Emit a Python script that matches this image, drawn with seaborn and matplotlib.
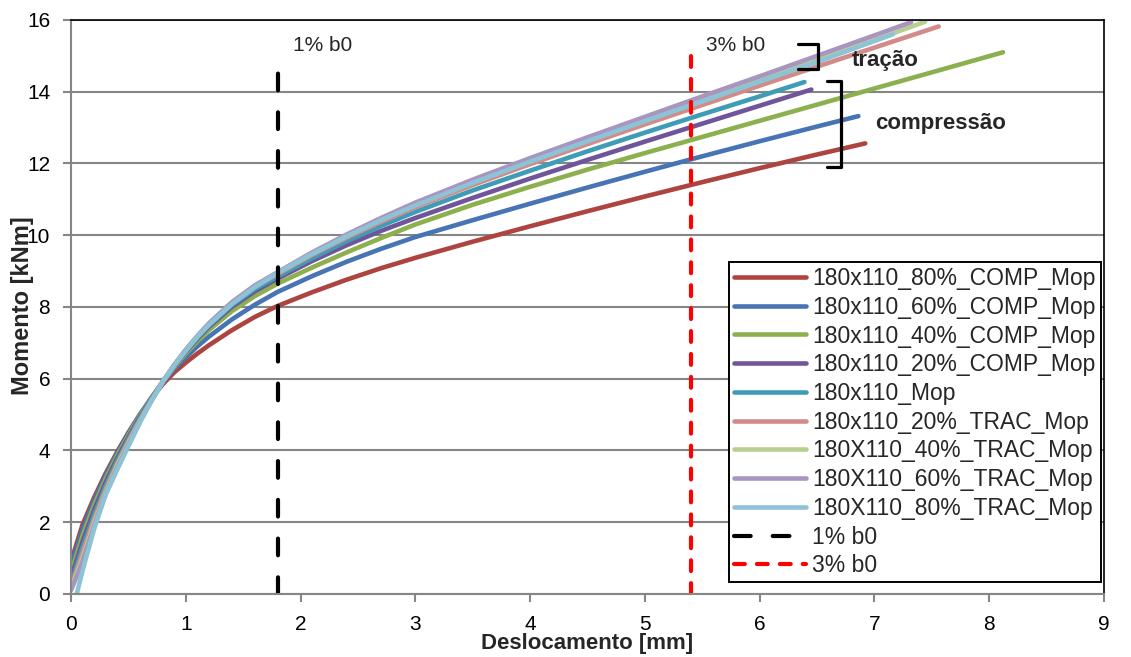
import matplotlib

matplotlib.use("Agg")
import matplotlib.pyplot as plt
import seaborn as sns

# Moment vs displacement curves
labels = [
    "180x110_80%_COMP_Mop",
    "180x110_60%_COMP_Mop",
    "180x110_40%_COMP_Mop",
    "180x110_20%_COMP_Mop",
    "180x110_Mop",
    "180x110_20%_TRAC_Mop",
    "180X110_40%_TRAC_Mop",
    "180X110_60%_TRAC_Mop",
    "180X110_80%_TRAC_Mop",
]
colors = [
    "#AE4440",
    "#4674B5",
    "#8DB04F",
    "#70559A",
    "#3F9CB6",
    "#D38B89",
    "#B7CF90",
    "#A896C0",
    "#8CC3D6",
]

# displacement values shared by all curves up to 6 mm
x_common = [0, 0.1, 0.2, 0.3, 0.4, 0.5, 0.6, 0.7, 0.8, 0.9, 1.0, 1.1, 1.2,
            1.4, 1.6, 1.8, 2.1, 2.4, 2.7, 3.0, 3.5, 4.0, 4.5, 5.0, 5.5, 6.0]

x_comp80 = x_common + [6.5, 6.92]
y_comp80 = [0.9, 1.93, 2.68, 3.35, 3.95, 4.5, 5.0, 5.45, 5.85, 6.18, 6.45, 6.7, 6.93,
            7.35, 7.72, 8.03, 8.41, 8.76, 9.08, 9.37, 9.82, 10.25, 10.67, 11.08, 11.48, 11.87,
            12.25, 12.56]

x_comp60 = x_common + [6.5, 6.86]
y_comp60 = [0.8, 1.8, 2.6, 3.3, 3.92, 4.48, 5.0, 5.47, 5.9, 6.28, 6.6, 6.9, 7.17,
            7.65, 8.06, 8.42, 8.86, 9.26, 9.62, 9.95, 10.42, 10.88, 11.33, 11.77, 12.2, 12.62,
            13.03, 13.32]

x_comp40 = x_common + [6.5, 7.0, 7.5, 8.12]
y_comp40 = [0.6, 1.62, 2.47, 3.2, 3.85, 4.43, 4.97, 5.46, 5.92, 6.33, 6.7, 7.04, 7.35,
            7.88, 8.3, 8.65, 9.1, 9.52, 9.92, 10.3, 10.85, 11.35, 11.83, 12.29, 12.74, 13.19,
            13.64, 14.09, 14.54, 15.1]

x_comp20 = x_common + [6.45]
y_comp20 = [0.45, 1.45, 2.33, 3.1, 3.77, 4.37, 4.93, 5.44, 5.92, 6.36, 6.75, 7.11, 7.44,
            8.0, 8.43, 8.79, 9.28, 9.72, 10.12, 10.48, 11.04, 11.58, 12.1, 12.61, 13.11, 13.61,
            14.06]

x_mop = x_common + [6.39]
y_mop = [0.3, 1.3, 2.2, 3.0, 3.7, 4.32, 4.9, 5.43, 5.92, 6.37, 6.77, 7.14, 7.48,
         8.05, 8.5, 8.85, 9.36, 9.83, 10.26, 10.65, 11.25, 11.8, 12.34, 12.86, 13.37, 13.87,
         14.27]

x_trac20 = x_common + [6.5, 7.0, 7.56]
y_trac20 = [0.2, 1.15, 2.08, 2.9, 3.62, 4.26, 4.85, 5.4, 5.92, 6.38, 6.79, 7.17, 7.51,
            8.1, 8.56, 8.92, 9.45, 9.93, 10.37, 10.78, 11.4, 11.98, 12.54, 13.09, 13.63, 14.17,
            14.7, 15.23, 15.82]

x_trac40 = x_common + [6.5, 7.0, 7.44]
y_trac40 = [0.15, 1.0, 1.97, 2.82, 3.56, 4.21, 4.82, 5.39, 5.92, 6.39, 6.8, 7.18, 7.53,
            8.12, 8.59, 8.95, 9.49, 9.98, 10.43, 10.85, 11.48, 12.07, 12.64, 13.2, 13.76, 14.32,
            14.88, 15.44, 15.95]

x_trac60 = x_common + [6.5, 7.0, 7.32]
y_trac60 = [0.1, 0.9, 1.88, 2.78, 3.5, 4.16, 4.8, 5.38, 5.92, 6.39, 6.81, 7.19, 7.54,
            8.13, 8.6, 8.97, 9.52, 10.02, 10.48, 10.91, 11.55, 12.15, 12.73, 13.3, 13.87, 14.43,
            15.0, 15.57, 15.94]

x_trac80 = [0.05] + x_common[1:] + [6.5, 7.16]
y_trac80 = [0.0, 0.65, 1.8, 2.75, 3.45, 4.12, 4.78, 5.38, 5.92, 6.38, 6.78, 7.17, 7.5,
            8.08, 8.55, 8.95, 9.48, 9.97, 10.42, 10.83, 11.46, 12.05, 12.62, 13.18, 13.73, 14.28,
            14.83, 15.6]

series_x = [x_comp80, x_comp60, x_comp40, x_comp20, x_mop, x_trac20, x_trac40, x_trac60, x_trac80]
series_y = [y_comp80, y_comp60, y_comp40, y_comp20, y_mop, y_trac20, y_trac40, y_trac60, y_trac80]

# Reference lines (1% and 3% of b0)
ref_labels = ["1% b0", "3% b0"]
ref_x = [1.8, 5.4]
ref_top = 15
ref_colors = ["black", "red"]
ref_dashes = [(4.0, 5.3), (2.6, 2.9)]

# Brackets grouping the curves
bracket_trac_x = [6.33, 6.51, 6.51, 6.33]
bracket_trac_y = [15.32, 15.32, 14.62, 14.62]
bracket_comp_x = [6.59, 6.71, 6.71, 6.59]
bracket_comp_y = [14.29, 14.29, 11.89, 11.89]

sns.set_style("white")
plt.rcParams["font.family"] = ["Liberation Sans", "DejaVu Sans"]

fig = plt.figure(figsize=(11.31, 6.57), dpi=100)
ax = fig.add_axes([0.0628, 0.0959, 0.9133, 0.8737])

for xs, ys, lab, col in zip(series_x, series_y, labels, colors):
    sns.lineplot(
        x=xs, y=ys, ax=ax, color=col, lw=3.3, label=lab,
        sort=False, estimator=None, solid_capstyle="round",
    )

for xv, lab, col, dsh in zip(ref_x, ref_labels, ref_colors, ref_dashes):
    ax.plot([xv, xv], [0, ref_top], color=col, lw=3, label=lab,
            dashes=dsh, dash_capstyle="round")
    ax.text(xv + 0.13, ref_top + 0.3, lab, fontsize=15, va="center", ha="left")

ax.plot(bracket_trac_x, bracket_trac_y, color="black", lw=2.3)
ax.plot(bracket_comp_x, bracket_comp_y, color="black", lw=2.3)
ax.text(6.80, 14.87, "tração", fontsize=16, fontweight="bold", va="center")
ax.text(7.01, 13.12, "compressão", fontsize=16, fontweight="bold", va="center")

ax.set_xlim(0, 9)
ax.set_ylim(0, 16)
ax.set_xticks(range(0, 10))
ax.set_yticks(range(0, 17, 2))
ax.yaxis.grid(True, color="#868686", lw=1.5)
ax.xaxis.grid(False)
ax.set_axisbelow(True)

for side in ["left", "bottom"]:
    ax.spines[side].set_color("#868686")
    ax.spines[side].set_linewidth(1.5)
for side in ["top", "right"]:
    ax.spines[side].set_color("black")
    ax.spines[side].set_linewidth(1.2)

ax.tick_params(axis="both", direction="out", length=6, width=1.5,
               color="#868686", labelsize=15, labelcolor="black", pad=9)
ax.tick_params(axis="y", left=True)
ax.tick_params(axis="x", bottom=True)

ax.set_xlabel("Deslocamento [mm]", fontsize=16, fontweight="bold")
ax.xaxis.set_label_coords(0.5, -0.068)
ax.set_ylabel("Momento [kNm]", fontsize=17, fontweight="bold")
ax.yaxis.set_label_coords(-0.036, 0.503)

handles, labs = ax.get_legend_handles_labels()
leg = ax.legend(
    handles, labs,
    loc="upper left",
    bbox_to_anchor=(0.6446, 0.6012),
    bbox_transform=fig.transFigure,
    fontsize=16.5,
    frameon=True,
    fancybox=False,
    framealpha=1,
    edgecolor="black",
    borderpad=0.22,
    labelspacing=0.25,
    handlelength=3.15,
    handletextpad=0.25,
    borderaxespad=0,
)
leg.get_frame().set_linewidth(1.4)

plt.savefig("out.png", dpi=100)
